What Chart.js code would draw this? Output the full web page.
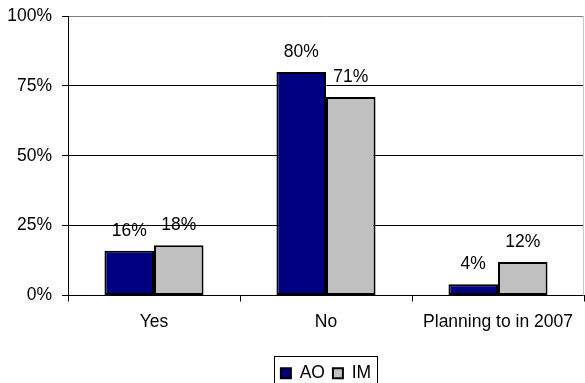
<!DOCTYPE html>
<html>
<head>
<meta charset="utf-8">
<script src="https://cdn.jsdelivr.net/npm/chart.js@4/dist/chart.umd.min.js"></script>
<style>
  html, body { margin: 0; padding: 0; background: #fff; }
  #wrap { width: 585px; height: 383px; }
</style>
</head>
<body>
<div id="wrap"><canvas id="chart" width="585" height="383"></canvas></div>
<script>
// data
const categories = ['Yes', 'No', 'Planning to in 2007'];
const aoValues = [16, 80, 4];
const imValues = [18, 71, 12];
const yTicks = [0, 25, 50, 75, 100];

const FONT = { family: 'Liberation Sans, Arial, sans-serif', size: 17.5 };

// value labels above each bar
const barLabels = {
  id: 'barLabels',
  afterDatasetsDraw(chart) {
    const ctx = chart.ctx;
    ctx.save();
    ctx.font = FONT.size + 'px ' + FONT.family;
    ctx.fillStyle = '#000';
    ctx.textAlign = 'center';
    ctx.textBaseline = 'alphabetic';
    chart.data.datasets.forEach((ds, i) => {
      chart.getDatasetMeta(i).data.forEach((bar, j) => {
        ctx.fillText(ds.data[j] + '%', bar.x, bar.y - 15);
      });
    });
    ctx.restore();
  }
};

// plot frame (right edge) + border round the legend
const frame = {
  id: 'frame',
  afterDraw(chart) {
    const ctx = chart.ctx;
    const a = chart.chartArea;
    ctx.save();
    ctx.strokeStyle = '#c8c8c8';
    ctx.lineWidth = 1;
    ctx.beginPath();
    ctx.moveTo(a.right - 0.5, a.top);
    ctx.lineTo(a.right - 0.5, a.bottom);
    ctx.stroke();

    const boxes = chart.legend.legendHitBoxes;
    if (boxes && boxes.length) {
      const l = Math.min(...boxes.map(b => b.left)) - 7;
      const r = Math.max(...boxes.map(b => b.left + b.width)) + 6;
      const t = Math.min(...boxes.map(b => b.top)) - 9;
      ctx.strokeStyle = '#000';
      ctx.strokeRect(Math.round(l) + 0.5, Math.round(t) + 0.5, Math.round(r - l), 40);
    }
    ctx.restore();
  }
};

new Chart(document.getElementById('chart'), {
  type: 'bar',
  data: {
    labels: categories,
    datasets: [
      {
        label: 'AO',
        data: aoValues,
        backgroundColor: '#000080',
        borderColor: '#000',
        borderWidth: 2,
        borderSkipped: false
      },
      {
        label: 'IM',
        data: imValues,
        backgroundColor: '#c0c0c0',
        borderColor: '#000',
        borderWidth: 2,
        borderSkipped: false
      }
    ]
  },
  options: {
    responsive: false,
    animation: false,
    // legend box runs off the bottom edge, as in the original
    layout: { padding: { top: 16, right: 1, left: 0, bottom: -9 } },
    datasets: { bar: { categoryPercentage: 0.576, barPercentage: 1 } },
    plugins: {
      legend: {
        position: 'bottom',
        fullSize: false,
        labels: {
          boxWidth: 10,
          boxHeight: 10,
          padding: 8,
          color: '#000',
          font: FONT
        }
      },
      tooltip: { enabled: false }
    },
    scales: {
      y: {
        min: 0,
        max: 100,
        afterBuildTicks(scale) {
          scale.ticks = yTicks.map(v => ({ value: v }));
        },
        afterFit(scale) {
          scale.width = 68;
          scale.paddingTop = 0;
          scale.paddingBottom = 0;
        },
        ticks: {
          color: '#000',
          font: FONT,
          padding: 10,
          callback: v => v + '%'
        },
        grid: {
          color: ctx => (ctx.tick && ctx.tick.value === 100) ? '#808080' : '#000',
          tickColor: '#000',
          tickLength: 6,
          lineWidth: 1
        },
        border: { color: '#000', width: 1 }
      },
      x: {
        afterFit(scale) { scale.height = 61; },
        ticks: {
          color: '#000',
          font: FONT,
          padding: 10,
          maxRotation: 0
        },
        grid: {
          drawOnChartArea: false,
          tickColor: '#000',
          tickLength: 6,
          offset: true
        },
        border: { color: '#000', width: 1 }
      }
    }
  },
  plugins: [barLabels, frame]
});
</script>
</body>
</html>
